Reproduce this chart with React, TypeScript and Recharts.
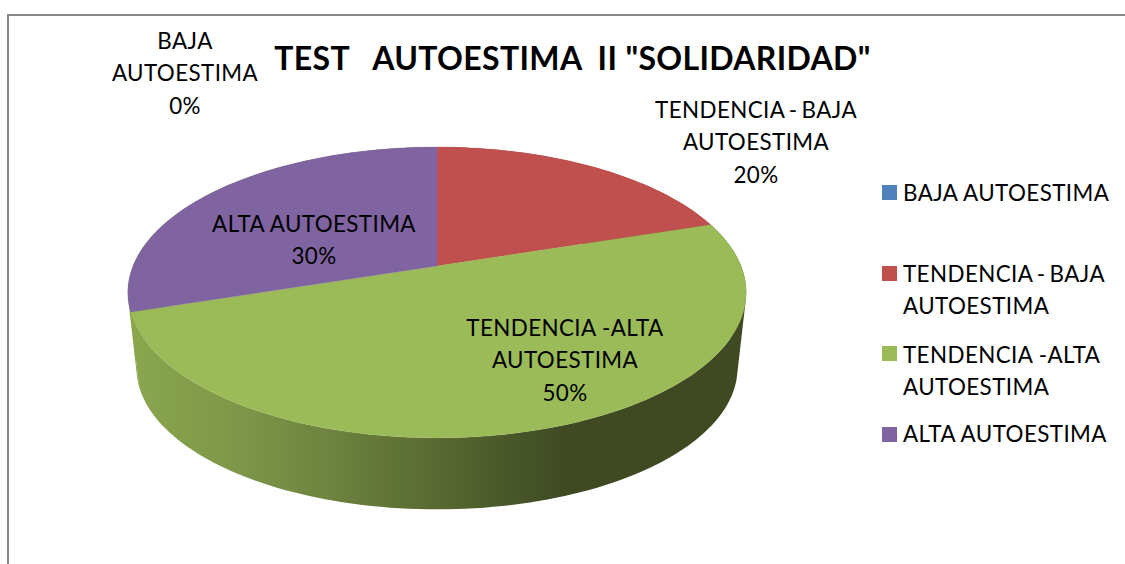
import React from "react";
import { PieChart, Pie, Legend } from "recharts";

const CATEGORIES = ["BAJA AUTOESTIMA", "TENDENCIA - BAJA AUTOESTIMA", "TENDENCIA -ALTA AUTOESTIMA", "ALTA AUTOESTIMA"];
const VALUES = [0, 20, 50, 30];
const COLORS = ["#4f81bd", "#c0504d", "#9bbb59", "#8064a2"];
const SIDE_COLORS = ["#3e6391", "#8e3b39", "url(#sideGreen)", "url(#sideGreen)"];
const LABEL_LINES = [
  ["BAJA", "AUTOESTIMA", "0%"],
  ["TENDENCIA - BAJA", "AUTOESTIMA", "20%"],
  ["TENDENCIA -ALTA", "AUTOESTIMA", "50%"],
  ["ALTA AUTOESTIMA", "30%"],
];
const LEGEND_LINES = [
  ["BAJA AUTOESTIMA"],
  ["TENDENCIA - BAJA", "AUTOESTIMA"],
  ["TENDENCIA -ALTA", "AUTOESTIMA"],
  ["ALTA AUTOESTIMA"],
];
const TITLE = 'TEST   AUTOESTIMA  II "SOLIDARIDAD"';

const pieData = CATEGORIES.map((name, i) => ({ name, value: VALUES[i], fill: COLORS[i] }));

// layout
const FONT = "Lato, sans-serif";
const TEXT_SIZE = 22.4;
const TEXT_SPACING = 0.4;
const LINE = 32.6;
const LABEL_POS = [
  { x: 185, y: 41 },
  { x: 756, y: 110 },
  { x: 565, y: 328 },
  { x: 314, y: 224 },
];
const LEGEND_TOPS = [185, 266, 346, 427];
const LEGEND_TEXT_SHIFT = [0, 0, 1, -1];

// perspective projection of the circular pie on the tilted plane
const K = -0.182;
const TILT = 0.4625;
const DEPTH_SCALE = 0.972;
const DEPTH_SHIFT = 76.3;

type Pt = { x: number; y: number };

function project(cx: number, cy: number, r: number, deg: number, bottom: boolean): Pt {
  const t = ((90 - deg) * Math.PI) / 180;
  const u = Math.sin(t);
  const v = -Math.cos(t);
  const s = bottom ? DEPTH_SCALE : 1;
  const d = 1 + K * v;
  return {
    x: cx + (r * s * u) / d,
    y: cy + (bottom ? DEPTH_SHIFT : 0) + (r * TILT * s * v) / d,
  };
}

function arc(cx: number, cy: number, r: number, from: number, to: number, bottom: boolean): Pt[] {
  const n = Math.max(2, Math.ceil(Math.abs(to - from) / 1.5));
  const pts: Pt[] = [];
  for (let i = 0; i <= n; i++) {
    pts.push(project(cx, cy, r, from + ((to - from) * i) / n, bottom));
  }
  return pts;
}

const fmt = (p: Pt) => `${p.x.toFixed(2)} ${p.y.toFixed(2)}`;
const wordGap = (l: string) => (l.includes(" - ") ? -2 : 0);

function sliceIndex(props: any) {
  const byName = CATEGORIES.indexOf(props.name ?? props.payload?.name);
  if (byName >= 0) return byName;
  return typeof props.index === "number" ? props.index : 0;
}

function TopFace(props: any) {
  const { cx, cy, outerRadius, startAngle, endAngle, fill } = props;
  if (startAngle === endAngle) return <g />;
  const pts = arc(cx, cy, outerRadius, startAngle, endAngle, false).map(fmt);
  return <path d={`M${cx} ${cy}L${pts.join("L")}Z`} fill={fill} stroke={fill} strokeWidth={0.3} />;
}

function SideFace(props: any) {
  const { cx, cy, outerRadius, startAngle, endAngle } = props;
  if (startAngle === endAngle) return <g />;
  const top = arc(cx, cy, outerRadius, startAngle, endAngle, false);
  const bot = arc(cx, cy, outerRadius, startAngle, endAngle, true);
  // one consistently wound quad per step, so folded parts of the wall do not cancel
  let d = "";
  for (let i = 0; i < top.length - 1; i++) {
    const q = [top[i], top[i + 1], bot[i + 1], bot[i]];
    let area = 0;
    q.forEach((p, j) => {
      const n = q[(j + 1) % 4];
      area += p.x * n.y - n.x * p.y;
    });
    const o = area < 0 ? [...q].reverse() : q;
    d += `M${o.map(fmt).join("L")}Z`;
  }
  return (
    <g>
      <defs>
        <linearGradient id="sideGreen" gradientUnits="userSpaceOnUse" x1={128} y1={0} x2={747} y2={0}>
          <stop offset="0%" stopColor="#8aa74e" />
          <stop offset="20%" stopColor="#7c9448" />
          <stop offset="36%" stopColor="#697e3c" />
          <stop offset="52%" stopColor="#556630" />
          <stop offset="70%" stopColor="#3f4a23" />
          <stop offset="100%" stopColor="#3f4a23" />
        </linearGradient>
      </defs>
      <path d={d} fill={SIDE_COLORS[sliceIndex(props)]} />
    </g>
  );
}

function SliceLabel(props: any) {
  const index = sliceIndex(props);
  const pos = LABEL_POS[index];
  const lines = LABEL_LINES[index] || [];
  return (
    <text fontFamily={FONT} fontSize={TEXT_SIZE} letterSpacing={TEXT_SPACING} fill="#000" textAnchor="middle">
      {lines.map((l, i) => (
        <tspan key={i} x={pos.x} y={pos.y + i * LINE} dy="0.35em" wordSpacing={wordGap(l)}>
          {l}
        </tspan>
      ))}
    </text>
  );
}

function LegendBox(props: any) {
  const items = props.payload || [];
  return (
    <div style={{ position: "absolute", left: 0, top: 0, width: 1125, height: 564 }}>
      {items.map((it: any, i: number) => (
        <React.Fragment key={i}>
          <div style={{ position: "absolute", left: 882, top: LEGEND_TOPS[i], width: 15, height: 15, background: COLORS[i] }} />
          {(LEGEND_LINES[i] || []).map((l, j) => (
            <div
              key={j}
              style={{
                position: "absolute",
                left: 903,
                top: LEGEND_TOPS[i] + 7.5 - 16 + j * LINE + LEGEND_TEXT_SHIFT[i],
                height: 32,
                lineHeight: "32px",
                fontFamily: FONT,
                fontSize: TEXT_SIZE,
                letterSpacing: TEXT_SPACING,
                wordSpacing: wordGap(l),
                color: "#000",
                whiteSpace: "nowrap",
              }}
            >
              {l}
            </div>
          ))}
        </React.Fragment>
      ))}
    </div>
  );
}

export default function App() {
  return (
    <div style={{ position: "absolute", left: 0, top: 0, width: 1125, height: 564, overflow: "hidden", background: "#fff" }}>
      <div style={{ position: "absolute", left: 7, top: 14, width: 1118, height: 550, borderLeft: "2px solid #868686", borderTop: "2px solid #868686", boxSizing: "border-box" }} />
      <div style={{ position: "absolute", left: 0, top: 0 }}>
        <PieChart width={1125} height={564} margin={{ top: 0, right: 0, bottom: 0, left: 0 }}>
          <Pie
            data={pieData}
            dataKey="value"
            nameKey="name"
            cx={437}
            cy={266}
            outerRadius={304}
            startAngle={90}
            endAngle={-270}
            stroke="none"
            legendType="none"
            shape={SideFace}
            isAnimationActive={false}
          />
          <Pie
            data={pieData}
            dataKey="value"
            nameKey="name"
            cx={437}
            cy={266}
            outerRadius={304}
            startAngle={90}
            endAngle={-270}
            stroke="none"
            shape={TopFace}
            label={SliceLabel}
            labelLine={false}
            isAnimationActive={false}
          />
          <Legend content={LegendBox} wrapperStyle={{ position: "absolute", left: 0, top: 0, width: 1125, height: 564 }} />
          <text x={572.5} y={59} dy="0.35em" textAnchor="middle" fontFamily={FONT} fontWeight={700} fontSize={32} letterSpacing={0.34} fill="#000" style={{ whiteSpace: "pre" }}>
            {TITLE}
          </text>
        </PieChart>
      </div>
    </div>
  );
}
